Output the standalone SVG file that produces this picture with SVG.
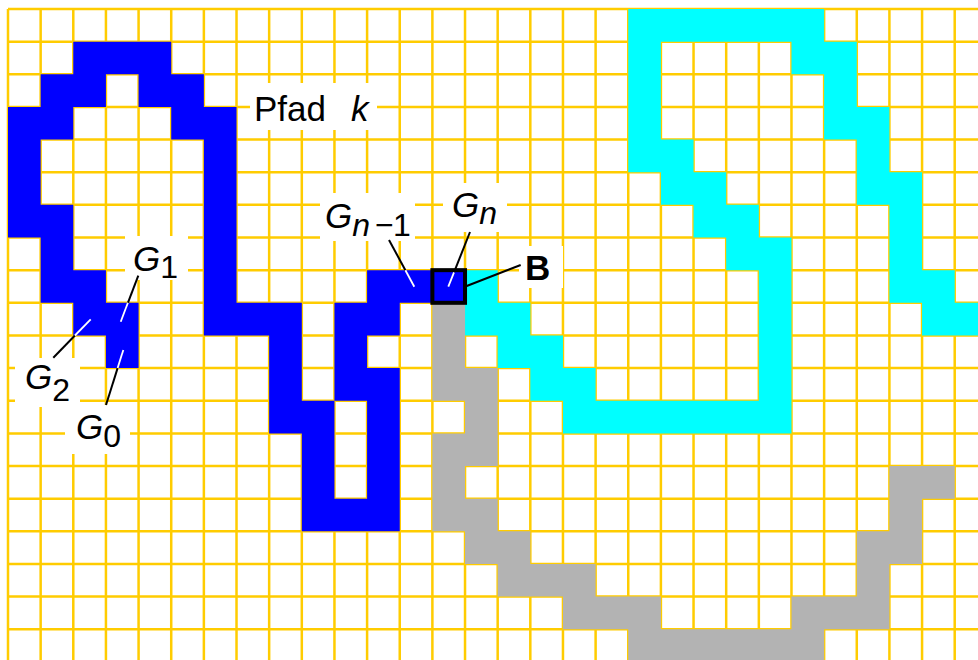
<svg xmlns="http://www.w3.org/2000/svg" width="978" height="660" viewBox="0 0 978 660">
<style>
.grid{fill:none;stroke:#FFCC00;stroke-width:2.5}
.t{font-family:"Liberation Sans",Arial,Helvetica,sans-serif;fill:#000}
.g{font-size:35px;font-style:italic}
.sub{font-size:32px;font-style:normal}
.subi{font-size:32px;font-style:italic}
.bg{fill:#fff}
.lk{stroke:#000;stroke-width:2;fill:none}
.lw{stroke:#fff;stroke-width:1.8;fill:none}
</style>
<rect x="0" y="0" width="978" height="660" fill="#fff"/>
<g id="grid">
<path class="grid" d="M8 9V660M40.645 9V660M73.29 9V660M105.935 9V660M138.58 9V660M171.225 9V660M203.87 9V660M236.515 9V660M269.16 9V660M301.805 9V660M334.45 9V660M367.095 9V660M399.74 9V660M432.385 9V660M465.03 9V660M497.675 9V660M530.32 9V660M562.965 9V660M595.61 9V660M628.255 9V660M660.9 9V660M693.545 9V660M726.19 9V660M758.835 9V660M791.48 9V660M824.125 9V660M856.77 9V660M889.415 9V660M922.06 9V660M954.705 9V660"/>
<path class="grid" d="M8 9H978M8 41.645H978M8 74.29H978M8 106.935H978M8 139.58H978M8 172.225H978M8 204.87H978M8 237.515H978M8 270.16H978M8 302.805H978M8 335.45H978M8 368.095H978M8 400.74H978M8 433.385H978M8 466.03H978M8 498.675H978M8 531.32H978M8 563.965H978M8 596.61H978M8 629.255H978"/>
</g>
<g id="cells" transform="translate(8 9) scale(32.645)">
<path id="pfad-k" fill="#0000FF" d="M2 1h3v1h-3zM1 2h2v1h-2zM4 2h2v1h-2zM0 3h2v1h-2zM5 3h2v1h-2zM0 4h1v1h-1zM6 4h1v1h-1zM0 5h1v1h-1zM6 5h1v1h-1zM0 6h2v1h-2zM6 6h1v1h-1zM1 7h1v1h-1zM6 7h1v1h-1zM1 8h2v1h-2zM6 8h1v1h-1zM11 8h3v1h-3zM2 9h2v1h-2zM6 9h3v1h-3zM10 9h2v1h-2zM3 10h1v1h-1zM8 10h1v1h-1zM10 10h1v1h-1zM8 11h1v1h-1zM10 11h2v1h-2zM8 12h2v1h-2zM11 12h1v1h-1zM9 13h1v1h-1zM11 13h1v1h-1zM9 14h1v1h-1zM11 14h1v1h-1zM9 15h3v1h-3z"/>
<path id="pfad-cyan" fill="#00FFFF" d="M19 0h6v1h-6zM19 1h1v1h-1zM24 1h2v1h-2zM19 2h1v1h-1zM25 2h1v1h-1zM19 3h1v1h-1zM25 3h2v1h-2zM19 4h2v1h-2zM26 4h1v1h-1zM20 5h2v1h-2zM26 5h2v1h-2zM21 6h2v1h-2zM27 6h1v1h-1zM22 7h2v1h-2zM27 7h1v1h-1zM14 8h1v1h-1zM23 8h1v1h-1zM27 8h2v1h-2zM14 9h2v1h-2zM23 9h1v1h-1zM28 9h2v1h-2zM15 10h2v1h-2zM23 10h1v1h-1zM16 11h2v1h-2zM23 11h1v1h-1zM17 12h7v1h-7z"/>
<path id="pfad-grau" fill="#B3B3B3" d="M13 9h1v1h-1zM13 10h1v1h-1zM13 11h2v1h-2zM14 12h1v1h-1zM13 13h2v1h-2zM13 14h1v1h-1zM27 14h2v1h-2zM13 15h2v1h-2zM27 15h1v1h-1zM14 16h2v1h-2zM26 16h2v1h-2zM15 17h3v1h-3zM26 17h1v1h-1zM17 18h3v1h-3zM24 18h3v1h-3zM19 19h6v1h-6z"/>
</g>
<g id="box-B-cell">
<rect x="432.385" y="270.16" width="32.645" height="32.645" fill="none" stroke="#000" stroke-width="4"/>
</g>
<g id="label-pfad-k">
<rect class="bg" x="250" y="83" width="127" height="47"/>
<text class="t" x="254" y="121" font-size="35">Pfad<tspan x="351" font-style="italic">k</tspan></text>
</g>
<g id="label-G1">
<rect class="bg" x="125" y="236" width="63" height="44"/>
<text class="t g" x="133" y="271">G<tspan class="sub" y="278">1</tspan></text>
</g>
<g id="label-G2">
<rect class="bg" x="15" y="358" width="65" height="49"/>
<text class="t g" x="25" y="389">G<tspan class="sub" y="401">2</tspan></text>
</g>
<g id="label-G0">
<rect class="bg" x="65" y="405" width="65" height="49"/>
<text class="t g" x="76" y="439">G<tspan class="sub" y="447">0</tspan></text>
</g>
<g id="label-Gn-1">
<rect class="bg" x="320" y="193" width="95" height="48"/>
<text class="t g" x="325" y="228">G<tspan class="subi" y="236">n</tspan><tspan class="sub" x="375" y="236">−</tspan><tspan class="sub" x="393" y="236">1</tspan></text>
</g>
<g id="label-Gn">
<rect class="bg" x="443" y="183" width="64" height="49"/>
<text class="t g" x="452" y="217">G<tspan class="subi" y="224">n</tspan></text>
</g>
<g id="label-B">
<rect class="bg" x="519" y="246" width="44" height="42"/>
<text class="t" x="525" y="280" font-size="35" font-weight="bold">B</text>
</g>
<g id="connectors">
<line class="lk" x1="138.3" y1="275.7" x2="127.9" y2="302.8"/>
<line class="lw" x1="127.9" y1="302.8" x2="120.7" y2="321.7"/>
<line class="lk" x1="53.3" y1="357.7" x2="74.9" y2="335.5"/>
<line class="lw" x1="74.9" y1="335.5" x2="90.7" y2="319.3"/>
<line class="lk" x1="106" y1="405" x2="117.6" y2="368.1"/>
<line class="lw" x1="117.6" y1="368.1" x2="123.3" y2="350"/>
<line class="lk" x1="389" y1="240" x2="405.4" y2="270.2"/>
<line class="lw" x1="405.4" y1="270.2" x2="414.3" y2="286.7"/>
<line class="lk" x1="470" y1="232" x2="454" y2="272.4"/>
<line class="lw" x1="454" y1="272.4" x2="448.3" y2="286.7"/>
<line class="lk" x1="520.7" y1="265" x2="466.7" y2="286"/>
</g>
</svg>
